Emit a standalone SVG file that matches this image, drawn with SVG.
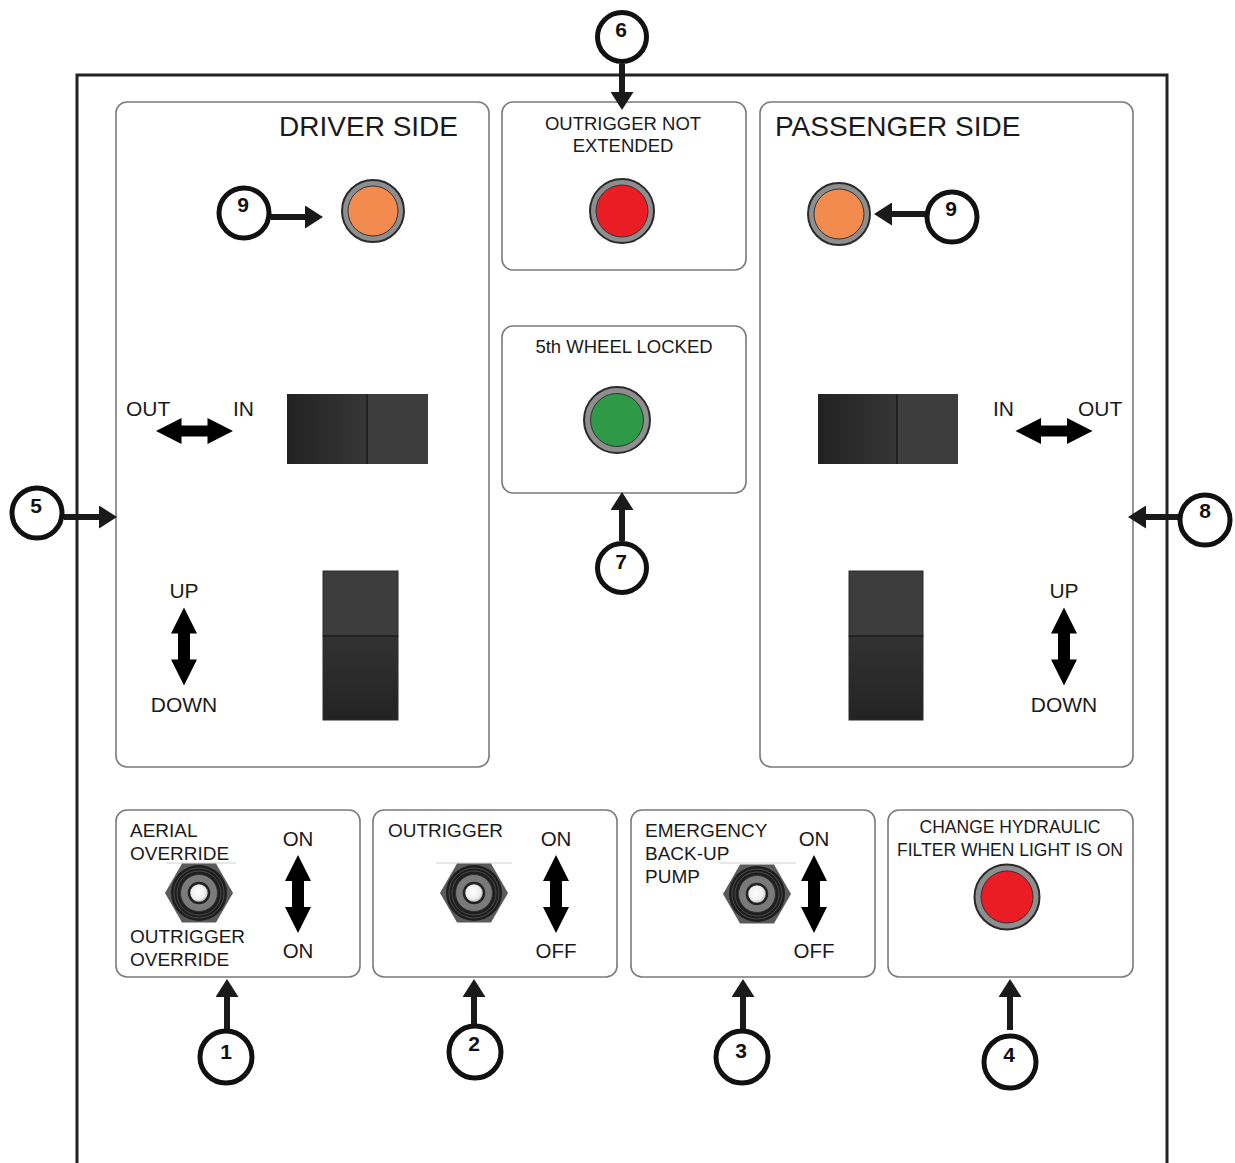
<svg xmlns="http://www.w3.org/2000/svg" width="1235" height="1163" viewBox="0 0 1235 1163">
<defs>
<style>
.panel{fill:#fff;stroke:#7a7a7a;stroke-width:1.6}
.frame{fill:none;stroke:#222;stroke-width:3}
.t{font-family:"Liberation Sans",Arial,sans-serif;fill:#1a1a1a}
.num{font-family:"Liberation Sans",Arial,sans-serif;font-weight:bold;font-size:21px;fill:#111;text-anchor:middle}
.callout{fill:#fff;stroke:#111;stroke-width:5}
.lead{stroke:#1a1a1a;stroke-width:6;fill:none;marker-end:url(#head)}
.dbl{fill:#000}
.ring{fill:#8e8e8e;stroke:#2a2a2a;stroke-width:2}
.core{stroke:#333;stroke-width:1}
.hint{stroke:#d0d0d0;stroke-width:1}
</style>
<marker id="head" markerUnits="userSpaceOnUse" markerWidth="18" markerHeight="23" refX="0" refY="11.5" orient="auto" viewBox="0 0 18 23">
<path d="M0,0 L18,11.5 L0,23 Z" fill="#1a1a1a"/>
</marker>
<linearGradient id="rockH" x1="0" y1="0" x2="1" y2="0">
<stop offset="0" stop-color="#222"/><stop offset="1" stop-color="#363636"/>
</linearGradient>
<linearGradient id="rockV" x1="0" y1="0" x2="0" y2="1">
<stop offset="0" stop-color="#323232"/><stop offset="1" stop-color="#232323"/>
</linearGradient>
<radialGradient id="knob" cx="0.45" cy="0.45" r="0.6">
<stop offset="0" stop-color="#fff"/><stop offset="0.6" stop-color="#eee"/><stop offset="1" stop-color="#9a9a9a"/>
</radialGradient>
<g id="toggle">
<polygon points="-34,0 -17,-29.5 17,-29.5 34,0 17,29.5 -17,29.5" fill="#5a5a5a"/>
<circle r="28" fill="#1e1e1e"/>
<circle r="25" fill="none" stroke="#4a4a4a" stroke-width="1"/>
<circle r="22" fill="none" stroke="#4a4a4a" stroke-width="1"/>
<circle r="18.5" fill="#7a7a7a" stroke="#333" stroke-width="1"/>
<circle r="10" fill="url(#knob)" stroke="#222" stroke-width="2.5"/>
</g>
<path id="arrV" d="M0,-39 L13,-13 L6,-13 L6,13 L13,13 L0,39 L-13,13 L-6,13 L-6,-13 L-13,-13 Z"/>
<path id="arrH" d="M-38.5,0 L-13,-13 L-13,-5.5 L13,-5.5 L13,-13 L38.5,0 L13,13 L13,5.5 L-13,5.5 L-13,13 Z"/>
</defs>
<rect width="1235" height="1163" fill="#fff"/>

<path class="frame" d="M77,1163 V75 H1167 V1163"/>

<g id="driver-side">
<rect class="panel" x="116" y="102" width="373" height="665" rx="11"/>
<text class="t" x="458" y="136" font-size="28" text-anchor="end">DRIVER SIDE</text>
<circle class="ring" cx="373" cy="211" r="31"/>
<circle class="core" cx="373" cy="211" r="25" fill="#f28b4d"/>
<text class="t" x="126" y="416" font-size="21">OUT</text>
<text class="t" x="233" y="416" font-size="21">IN</text>
<use href="#arrH" x="194.5" y="431" class="dbl"/>
<rect x="287" y="394" width="80" height="70" fill="url(#rockH)"/>
<rect x="367" y="394" width="61" height="70" fill="#3d3d3d"/>
<line x1="367" y1="394" x2="367" y2="464" stroke="#111" stroke-width="1.2"/>
<text class="t" x="184" y="598" font-size="21" text-anchor="middle">UP</text>
<use href="#arrV" x="184" y="646.5" class="dbl"/>
<text class="t" x="184" y="712" font-size="21" text-anchor="middle">DOWN</text>
<rect x="323" y="571" width="75" height="65" fill="#3d3d3d" stroke="#2a2a2a" stroke-width="1"/>
<rect x="323" y="636" width="75" height="84" fill="url(#rockV)" stroke="#2a2a2a" stroke-width="1"/>
<line x1="323" y1="636" x2="398" y2="636" stroke="#151515" stroke-width="1.2"/>
</g>

<g id="outrigger-not-extended">
<rect class="panel" x="502" y="102" width="244" height="168" rx="11"/>
<text class="t" x="623" y="130" font-size="18.5" text-anchor="middle">OUTRIGGER NOT</text>
<text class="t" x="623" y="152" font-size="18.5" text-anchor="middle">EXTENDED</text>
<circle class="ring" cx="622" cy="211" r="32"/>
<circle class="core" cx="622" cy="211" r="26" fill="#ea1c24"/>
</g>

<g id="fifth-wheel-locked">
<rect class="panel" x="502" y="326" width="244" height="167" rx="11"/>
<text class="t" x="624" y="353" font-size="18.5" text-anchor="middle">5th WHEEL LOCKED</text>
<circle class="ring" cx="617" cy="420" r="33"/>
<circle class="core" cx="617" cy="420" r="26.5" fill="#2e9a48"/>
</g>

<g id="passenger-side">
<rect class="panel" x="760" y="102" width="373" height="665" rx="11"/>
<text class="t" x="775" y="136" font-size="28">PASSENGER SIDE</text>
<circle class="ring" cx="839" cy="214" r="31"/>
<circle class="core" cx="839" cy="214" r="25" fill="#f28b4d"/>
<rect x="818" y="394" width="79" height="70" fill="url(#rockH)"/>
<rect x="897" y="394" width="61" height="70" fill="#3d3d3d"/>
<line x1="897" y1="394" x2="897" y2="464" stroke="#111" stroke-width="1.2"/>
<text class="t" x="993" y="416" font-size="21">IN</text>
<text class="t" x="1078" y="416" font-size="21">OUT</text>
<use href="#arrH" x="1054" y="431" class="dbl"/>
<rect x="849" y="571" width="74" height="65" fill="#3d3d3d" stroke="#2a2a2a" stroke-width="1"/>
<rect x="849" y="636" width="74" height="84" fill="url(#rockV)" stroke="#2a2a2a" stroke-width="1"/>
<line x1="849" y1="636" x2="923" y2="636" stroke="#151515" stroke-width="1.2"/>
<text class="t" x="1064" y="598" font-size="21" text-anchor="middle">UP</text>
<use href="#arrV" x="1064" y="646.5" class="dbl"/>
<text class="t" x="1064" y="712" font-size="21" text-anchor="middle">DOWN</text>
</g>

<g id="aerial-override">
<rect class="panel" x="116" y="810" width="244" height="167" rx="11"/>
<line class="hint" x1="166" y1="863" x2="236" y2="863"/>
<text class="t" x="130" y="837" font-size="19">AERIAL</text>
<text class="t" x="130" y="860" font-size="19">OVERRIDE</text>
<text class="t" x="130" y="943" font-size="19">OUTRIGGER</text>
<text class="t" x="130" y="966" font-size="19">OVERRIDE</text>
<use href="#toggle" x="199" y="893"/>
<text class="t" x="298" y="846" font-size="20.5" text-anchor="middle">ON</text>
<use href="#arrV" x="298" y="894" class="dbl"/>
<text class="t" x="298" y="958" font-size="20.5" text-anchor="middle">ON</text>
</g>

<g id="outrigger-switch">
<rect class="panel" x="373" y="810" width="244" height="167" rx="11"/>
<line class="hint" x1="436" y1="863" x2="512" y2="863"/>
<text class="t" x="388" y="837" font-size="19">OUTRIGGER</text>
<use href="#toggle" x="474" y="893"/>
<text class="t" x="556" y="846" font-size="20.5" text-anchor="middle">ON</text>
<use href="#arrV" x="556" y="894" class="dbl"/>
<text class="t" x="556" y="958" font-size="20.5" text-anchor="middle">OFF</text>
</g>

<g id="emergency-pump">
<rect class="panel" x="631" y="810" width="244" height="167" rx="11"/>
<line class="hint" x1="720" y1="863" x2="796" y2="863"/>
<text class="t" x="645" y="837" font-size="19">EMERGENCY</text>
<text class="t" x="645" y="860" font-size="19">BACK-UP</text>
<text class="t" x="645" y="883" font-size="19">PUMP</text>
<use href="#toggle" x="757" y="894"/>
<text class="t" x="814" y="846" font-size="20.5" text-anchor="middle">ON</text>
<use href="#arrV" x="814" y="894" class="dbl"/>
<text class="t" x="814" y="958" font-size="20.5" text-anchor="middle">OFF</text>
</g>

<g id="hydraulic-filter">
<rect class="panel" x="888" y="810" width="245" height="167" rx="11"/>
<text class="t" x="1010" y="833" font-size="17.5" text-anchor="middle">CHANGE HYDRAULIC</text>
<text class="t" x="1010" y="856" font-size="17.5" text-anchor="middle">FILTER WHEN LIGHT IS ON</text>
<circle class="ring" cx="1007" cy="897" r="32.5"/>
<circle class="core" cx="1007" cy="897" r="26" fill="#ea1c24"/>
</g>

<g id="connectors">
<line class="lead" x1="622" y1="64" x2="622" y2="92"/>
<line class="lead" x1="271" y1="217" x2="305" y2="217"/>
<line class="lead" x1="925" y1="214" x2="892" y2="214"/>
<line class="lead" x1="64" y1="517" x2="99" y2="517"/>
<line class="lead" x1="1178" y1="517" x2="1146" y2="517"/>
<line class="lead" x1="622" y1="541" x2="622" y2="510"/>
<line class="lead" x1="227" y1="1031" x2="227" y2="997"/>
<line class="lead" x1="474" y1="1026" x2="474" y2="997"/>
<line class="lead" x1="743" y1="1031" x2="743" y2="997"/>
<line class="lead" x1="1010" y1="1030" x2="1010" y2="997"/>
</g>

<g id="callout-6"><circle class="callout" cx="622" cy="37" r="24.5"/><text class="num" x="621" y="37">6</text></g>
<g id="callout-9-left"><circle class="callout" cx="244" cy="213" r="25"/><text class="num" x="243" y="212">9</text></g>
<g id="callout-9-right"><circle class="callout" cx="952" cy="217" r="25"/><text class="num" x="951" y="216">9</text></g>
<g id="callout-5"><circle class="callout" cx="37" cy="513" r="25"/><text class="num" x="36" y="513">5</text></g>
<g id="callout-8"><circle class="callout" cx="1205" cy="520" r="25"/><text class="num" x="1205" y="518">8</text></g>
<g id="callout-7"><circle class="callout" cx="622" cy="568" r="24.5"/><text class="num" x="621" y="569">7</text></g>
<g id="callout-1"><circle class="callout" cx="226" cy="1057" r="26"/><text class="num" x="226" y="1059">1</text></g>
<g id="callout-2"><circle class="callout" cx="475" cy="1052" r="26"/><text class="num" x="474" y="1051">2</text></g>
<g id="callout-3"><circle class="callout" cx="742" cy="1057" r="26"/><text class="num" x="741" y="1058">3</text></g>
<g id="callout-4"><circle class="callout" cx="1010" cy="1062" r="26"/><text class="num" x="1009" y="1062">4</text></g>
</svg>
